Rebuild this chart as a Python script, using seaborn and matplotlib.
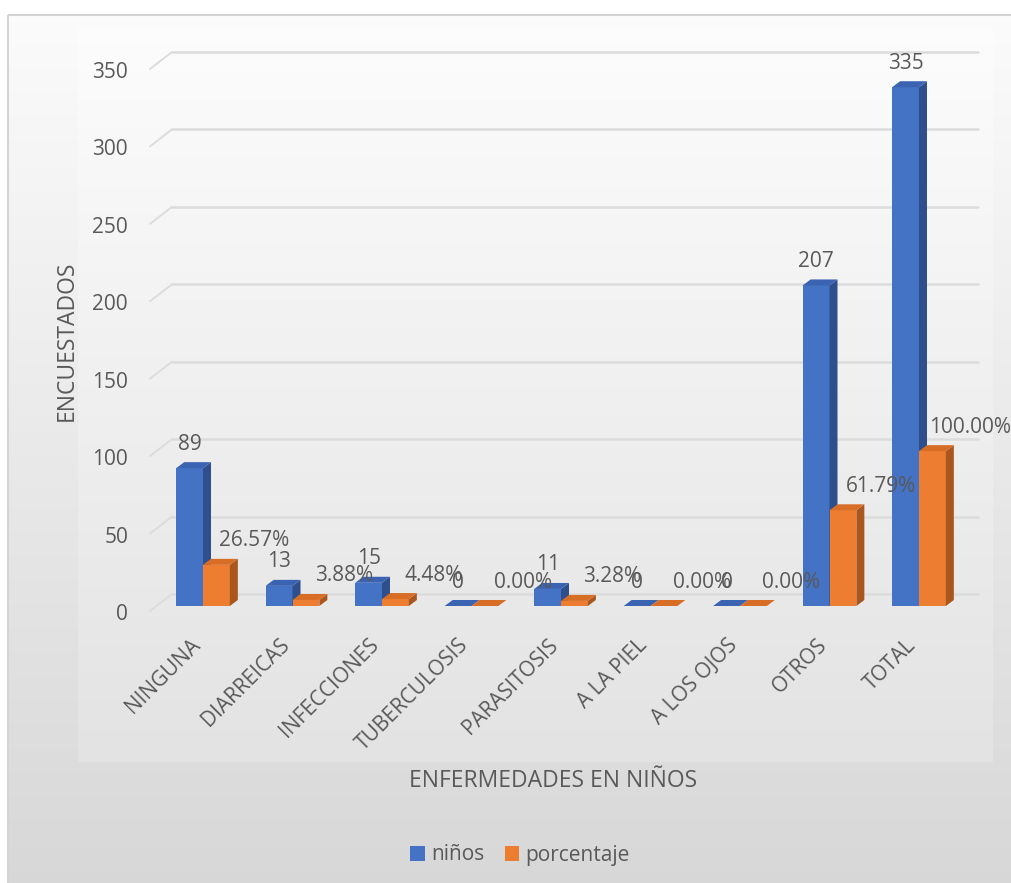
import numpy as np
import pandas as pd
import matplotlib
matplotlib.use("Agg")
import matplotlib.pyplot as plt
import seaborn as sns
from matplotlib.patches import Polygon, Patch, Rectangle
from matplotlib.transforms import ScaledTranslation, blended_transform_factory

# ---------------- data ----------------
categories = ["NINGUNA", "DIARREICAS", "INFECCIONES", "TUBERCULOSIS", "PARASITOSIS",
              "A LA PIEL", "A LOS OJOS", "OTROS", "TOTAL"]
ninos = [89, 13, 15, 0, 11, 0, 0, 207, 335]
porcentaje = [26.57, 3.88, 4.48, 0.00, 3.28, 0.00, 0.00, 61.79, 100.00]
series_names = ["niños", "porcentaje"]
y_ticks = [0, 50, 100, 150, 200, 250, 300, 350]
x_title = "ENFERMEDADES EN NIÑOS"
y_title = "ENCUESTADOS"

df = pd.DataFrame({
    "cat": categories * 2,
    "serie": [series_names[0]] * len(categories) + [series_names[1]] * len(categories),
    "valor": ninos + porcentaje,
})

sns.set_theme(style="white")
plt.rcParams["font.family"] = ["Open Sans", "DejaVu Sans"]
TXT = "#595959"
FS = 15
BLUE, ORANGE = "#4472C4", "#ED7D31"
SIDE = {BLUE: "#2E4F8C", ORANGE: "#A9561F"}
TOP = {BLUE: "#3A63B2", ORANGE: "#D86E26"}

W, H, DPI = 1011, 883, 100
fig = plt.figure(figsize=(W / DPI, H / DPI), dpi=DPI)
fig.patch.set_facecolor("white")

# ---------- background (chart area + plot area gradients) ----------
bg = fig.add_axes([0, 0, 1, 1], zorder=-10)
bg.axis("off")
g1 = np.linspace(0, 1, 256)[:, None]
outer = np.dstack([(0.985 - 0.14 * g1)] * 3)
bg.imshow(outer, extent=(8, W + 2, H + 2, 15), aspect="auto", zorder=0)
inner = np.dstack([(0.99 - 0.10 * g1)] * 3)
bg.imshow(inner, extent=(78, 993, 762, 28), aspect="auto", zorder=1)
bg.add_patch(Rectangle((8, 15), W, H, fill=False, ec="#d4d4d4", lw=1.5, zorder=2))
bg.set_xlim(0, W)
bg.set_ylim(H, 0)

# ---------------- main axes ----------------
L, R, B0, T350 = 150, 978, 606, 64
ax = fig.add_axes([L / W, (H - B0) / H, (R - L) / W, (B0 - T350) / H])
ax.patch.set_alpha(0)

sns.barplot(data=df, x="cat", y="valor", hue="serie", hue_order=series_names,
            order=categories, palette=[BLUE, ORANGE], width=0.60, saturation=1,
            edgecolor="none", legend=False, ax=ax, zorder=3)

px_per_x = 89.5
ax.set_xlim(-(203 - L) / px_per_x, (R - 203) / px_per_x)
ax.set_ylim(0, 350)
px_per_y = (B0 - T350) / 350.0

for s in ax.spines.values():
    s.set_visible(False)
ax.tick_params(length=0)
ax.set_xlabel("")
ax.set_ylabel("")

# back-wall gridlines with 3D slant
gtrans = blended_transform_factory(ax.transAxes, ax.transData)
up = ScaledTranslation(0, 12 / DPI, fig.dpi_scale_trans)
for v in y_ticks:
    ax.plot([22 / (R - L), 1.0], [v, v], transform=gtrans + up, color="#dcdcdc",
            lw=1.8, zorder=1, clip_on=False)
    ax.plot([0, 22 / (R - L)], [v - 5 / px_per_y, v + 12 / px_per_y], transform=gtrans,
            color="#dcdcdc", lw=1.4, zorder=1, clip_on=False)

# 3D side and top faces
ddx = 8 / px_per_x
ddy = 6 / px_per_y
bars = list(ax.patches)
n = len(categories)
for i, p in enumerate(bars):
    x0 = p.get_x()
    x1 = x0 + p.get_width()
    h = p.get_height()
    key = BLUE if i < n else ORANGE
    z = 3 if i < n else 4
    p.set_zorder(z)
    ax.add_patch(Polygon([(x1, 0), (x1 + ddx, ddy), (x1 + ddx, h + ddy), (x1, h)],
                         closed=True, fc=SIDE[key], ec="none", zorder=z))
    ax.add_patch(Polygon([(x0, h), (x1, h), (x1 + ddx, h + ddy), (x0 + ddx, h + ddy)],
                         closed=True, fc=TOP[key], ec="none", zorder=z))

# value labels
for i, p in enumerate(bars):
    h = p.get_height()
    cx = p.get_x() + p.get_width() / 2
    if i < n:
        txt = f"{ninos[i]:d}"
        dx = 0
    else:
        txt = f"{porcentaje[i - n]:.2f}%"
        dx = 38
    ax.annotate(txt, (cx, h), xytext=(dx * 72 / DPI, 24 * 72 / DPI), textcoords="offset points",
                ha="center", va="center", fontsize=FS, color=TXT, zorder=6, annotation_clip=False)

# ticks
ax.set_yticks(y_ticks)
ax.set_yticklabels([str(v) for v in y_ticks], fontsize=FS, color=TXT)
ax.tick_params(axis="y", pad=22 * 72 / DPI)
for lab in ax.get_yticklabels():
    lab.set_transform(lab.get_transform() + ScaledTranslation(0, -6 / DPI, fig.dpi_scale_trans))

ax.set_xticks(range(n))
ax.set_xticklabels(categories, fontsize=FS, color=TXT, rotation=45, ha="right",
                   rotation_mode="anchor", va="center")
ax.tick_params(axis="x", pad=36 * 72 / DPI)
for lab in ax.get_xticklabels():
    lab.set_transform(lab.get_transform() + ScaledTranslation(-6 / DPI, 0, fig.dpi_scale_trans))

# axis titles
fig.text(553 / W, 1 - 781 / H, x_title, ha="center", va="center", fontsize=16.5, color=TXT)
fig.text(67 / W, 1 - 341 / H, y_title, ha="center", va="center", rotation=90,
         fontsize=16.5, color=TXT)

# legend
handles = [Patch(facecolor=BLUE, edgecolor="none"), Patch(facecolor=ORANGE, edgecolor="none")]
fig.legend(handles, series_names, loc="center", bbox_to_anchor=(520 / W, 1 - 855 / H),
           ncol=2, frameon=False, fontsize=FS, labelcolor=TXT, handlelength=0.7,
           handleheight=0.7, handletextpad=0.3, columnspacing=1.0)

fig.savefig("out.png", dpi=DPI)
